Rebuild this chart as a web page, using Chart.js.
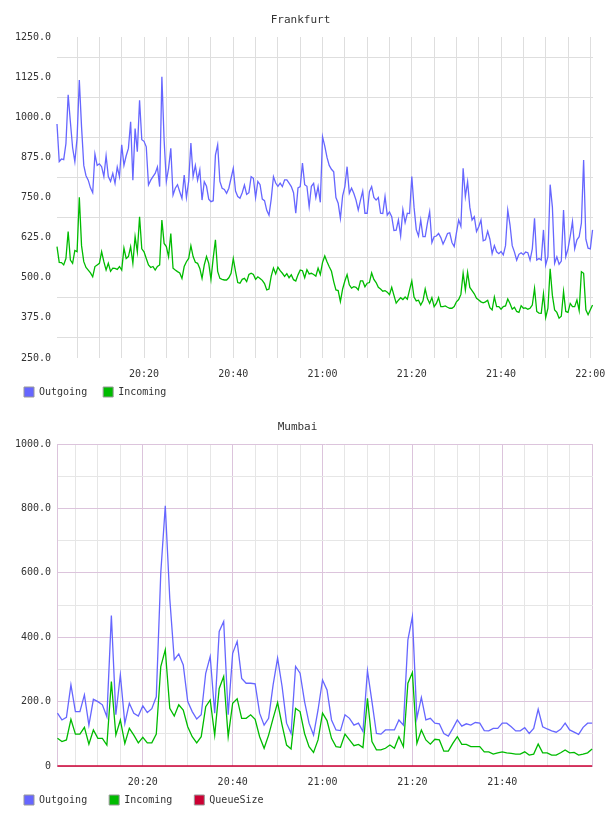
<!DOCTYPE html>
<html>
<head>
<meta charset="utf-8">
<title>Frankfurt / Mumbai traffic</title>
<script src="https://cdn.jsdelivr.net/npm/chart.js@4.4.0/dist/chart.umd.min.js"></script>
<style>
  html, body { margin: 0; padding: 0; background: #fff; }
  .box { position: absolute; left: 0; width: 608px; height: 408px; }
</style>
</head>
<body>
<div class="box" style="top:0"><canvas id="frankfurtChart" width="608" height="408"></canvas></div>
<div class="box" style="top:408px"><canvas id="mumbaiChart" width="608" height="408"></canvas></div>
<script>
// --- Data: x is minutes after 20:00 ---
const frankfurtStart = 0.5;
const frankfurtStep = 0.5;
const frankfurtOutgoing = [
  979, 862, 870, 868, 918, 1070, 985, 905, 862, 935,
  1116, 970, 850, 818, 804, 780, 765, 885, 850, 855,
  846, 815, 880, 815, 800, 825, 794, 845, 815, 914,
  850, 880, 903, 986, 804, 965, 893, 1053, 930, 925,
  908, 789, 804, 815, 825, 845, 784, 1126, 929, 800,
  841, 903, 758, 779, 790, 768, 747, 820, 750, 800,
  920, 815, 850, 804, 836, 742, 799, 785, 745, 737,
  740, 882, 914, 800, 779, 775, 763, 779, 810, 841,
  770,
  753, 748, 765, 789, 760, 765, 815, 810, 750, 800,
  790, 745, 740, 710, 695, 745, 815, 795, 785, 795,
  784, 805, 805, 795, 784, 765, 701, 780, 784, 857,
  790, 785, 721, 785, 794, 750, 784, 735, 939, 910,
  875, 850, 838, 830, 750, 732, 685, 755, 784, 846,
  763, 779, 763, 742, 711, 742, 770, 701, 701, 768,
  784, 750, 742, 750, 701, 700, 753, 695, 705, 690,
  647, 648, 680, 630, 712, 672, 701, 700, 815, 720,
  650, 630, 680, 628, 628, 670, 706, 610, 628, 630,
  638, 625, 605, 620, 638, 640, 610, 597, 640, 680,
  660, 841, 753, 799, 720, 680, 690, 644, 659, 680,
  615, 618, 645, 620, 575, 600, 581, 575, 582, 571,
  600, 711, 665, 600, 580, 555, 573, 578, 572, 580,
  578, 555, 590, 685, 555, 560, 555, 649, 540, 566,
  790, 720, 545, 565, 542, 552, 711, 566, 590, 630,
  675, 590, 618, 628, 670, 867, 620, 592, 590, 649
];
const frankfurtIncoming = [
  597, 548, 547, 540, 560, 644, 555, 545, 585, 581,
  751, 600, 550, 532, 524, 515, 503, 535, 540, 545,
  581, 550, 524, 545, 520, 530, 529, 526, 535, 524,
  592, 560, 566, 597, 545, 628, 581, 690, 590, 581,
  560, 540, 532, 535, 524, 535, 540, 680, 607, 597,
  566, 638, 530, 524, 519, 515, 498, 535, 550, 560,
  600, 566, 548, 545, 529, 498, 540, 566, 545, 495,
  561, 618, 520, 498, 495, 493, 493, 500, 514, 560,
  520,
  485, 483, 495, 498, 488, 510, 514, 510, 495, 503,
  498, 492, 482, 462, 465, 505, 530, 512, 533, 522,
  514, 504, 513, 500, 509, 494, 490, 509, 524, 522,
  500, 525, 512, 514, 510, 505, 530, 510, 548, 568,
  550, 534, 520, 488, 462, 460, 426, 465, 490, 510,
  478, 468, 472, 470, 462, 490, 490, 472, 483, 485,
  515, 495, 485, 470, 465, 458, 460, 455, 447, 470,
  445, 421, 430, 438, 432, 440, 433, 462, 490, 440,
  428, 430, 415, 428, 465, 435, 420, 438, 410, 420,
  438, 410, 410, 412, 408, 405, 405, 410, 425, 432,
  448, 514, 462, 517, 470, 460, 450, 436, 431, 425,
  422, 425, 430, 407, 400, 440, 410, 410, 402, 410,
  412, 434, 420, 402, 408, 395, 392, 413, 405, 406,
  402, 405, 415, 467, 395, 390, 389, 450, 376, 405,
  528, 445, 400, 392, 374, 380, 457, 395, 392, 420,
  410, 410, 431, 398, 519, 514, 400, 385, 400, 415
];

const mumbaiStart = 1;
const mumbaiStep = 1;
const mumbaiOutgoing = [
  164, 143, 151, 252, 169, 169, 221, 127, 207, 200,
  190, 153, 467, 159, 283, 132, 195, 164, 155, 187,
  166, 178, 215, 600, 808, 520, 330, 348, 314, 200,
  169, 146, 159, 288, 340, 164, 418, 449, 159, 350,
  387, 272, 257, 257, 255, 164, 127, 148, 252, 335,
  247, 133, 101, 309, 288, 200, 133, 96, 174, 267,
  236, 143, 112, 110, 159, 148, 127, 133, 107, 296,
  200, 101, 99, 112, 112, 112, 143, 127, 392, 464,
  148, 213, 143, 148, 133, 131, 101, 93, 117, 143,
  124, 131, 127, 135, 133, 110, 109, 117, 117, 133,
  133, 122, 109, 109, 119, 101, 117, 176, 122, 115,
  109, 105, 114, 133, 112, 105, 98, 120, 133, 133
];
const mumbaiIncoming = [
  86, 76, 81, 145, 99, 99, 120, 68, 112, 86,
  86, 65, 262, 96, 143, 70, 117, 96, 72, 89,
  72, 72, 99, 309, 361, 179, 155, 190, 174, 122,
  91, 72, 91, 184, 205, 96, 241, 278, 91, 195,
  209, 148, 148, 159, 145, 91, 55, 96, 148, 197,
  127, 65, 53, 179, 169, 101, 60, 42, 81, 164,
  141, 86, 60, 58, 99, 81, 63, 67, 57, 210,
  76, 50, 50, 55, 65, 55, 91, 60, 257, 290,
  70, 112, 81, 68, 83, 81, 46, 46, 70, 91,
  67, 67, 60, 60, 60, 44, 44, 37, 41, 44,
  41, 39, 37, 37, 44, 34, 37, 68, 41, 41,
  34, 34, 41, 50, 41, 42, 34, 37, 41, 53
];
const mumbaiQueueSize = [
  0, 0, 0, 0, 0, 0, 0, 0, 0, 0, 0, 0, 0, 0, 0, 0, 0, 0, 0, 0,
  0, 0, 0, 0, 0, 0, 0, 0, 0, 0, 0, 0, 0, 0, 0, 0, 0, 0, 0, 0,
  0, 0, 0, 0, 0, 0, 0, 0, 0, 0, 0, 0, 0, 0, 0, 0, 0, 0, 0, 0,
  0, 0, 0, 0, 0, 0, 0, 0, 0, 0, 0, 0, 0, 0, 0, 0, 0, 0, 0, 0,
  0, 0, 0, 0, 0, 0, 0, 0, 0, 0, 0, 0, 0, 0, 0, 0, 0, 0, 0, 0,
  0, 0, 0, 0, 0, 0, 0, 0, 0, 0, 0, 0, 0, 0, 0, 0, 0, 0, 0, 0
];

// --- Axis ticks ---
const xGridMinutes = [5, 10, 15, 20, 25, 30, 35, 40, 45, 50, 55, 60, 65, 70, 75, 80, 85, 90, 95, 100, 105, 110, 115, 120];
const frankfurtXLabels = [20, 40, 60, 80, 100, 120];
const mumbaiXLabels = [20, 40, 60, 80, 100];
const frankfurtYLabels = [250, 375, 500, 625, 750, 875, 1000, 1125, 1250];
const frankfurtYGrid = [312.5, 437.5, 562.5, 687.5, 812.5, 937.5, 1062.5, 1187.5];
const mumbaiYLabels = [0, 200, 400, 600, 800, 1000];
const mumbaiYGrid = [100, 300, 500, 700, 900];

// --- Helpers ---
const MONO = 'DejaVu Sans Mono';
const TEXT = '#333';
const BLUE = '#6666ff';
const GREEN = '#00bb00';
const RED = '#cc0033';
const GRAY = '#dedede';
const PINK = '#dcc4dc';

const toPoints = (values, start, step) => values.map((v, i) => ({ x: start + i * step, y: v }));

const timeLabel = (m) => {
    const h = 20 + Math.floor(m / 60);
    return h + ':' + String(m % 60).padStart(2, '0');
};

const legendLabels = (chart) => Chart.defaults.plugins.legend.labels.generateLabels(chart).map(item => {
    item.strokeStyle = '#999';
    item.lineWidth = 1;
    return item;
});

const series = (label, color, points) => ({
    label: label, data: points, borderColor: color, backgroundColor: color,
    borderWidth: 1.3, pointRadius: 0, tension: 0, clip: 2
});

function buildChart(canvasId, o) {
    const font = { family: MONO, size: 10 };
    return new Chart(document.getElementById(canvasId), {
        type: 'line',
        data: { datasets: o.datasets },
        options: {
            responsive: false,
            animation: false,
            layout: { padding: { left: o.padLeft, right: 15, top: 0, bottom: 1 } },
            scales: {
                x: {
                    type: 'linear', min: o.xMin, max: o.xMax,
                    afterBuildTicks: (scale) => { scale.ticks = o.xTicks.map(v => ({ value: v })); },
                    afterFit: (scale) => { scale.height = o.xHeight; scale.paddingLeft = 0; scale.paddingRight = 0; },
                    grid: { color: (c) => o.xGridColor(c.tick.value), drawTicks: false },
                    border: { display: false },
                    // mirror keeps the labels from being clipped to the (short) axis box
                    ticks: {
                        mirror: true, padding: -22,
                        callback: (v) => o.xLabels.includes(v) ? timeLabel(v) : '',
                        maxRotation: 0, autoSkip: false, font: font, color: TEXT
                    }
                },
                y: {
                    type: 'linear', min: o.yMin, max: o.yMax,
                    afterBuildTicks: (scale) => {
                        scale.ticks = o.yLabels.concat(o.yGrid).sort((a, b) => a - b).map(v => ({ value: v }));
                    },
                    afterFit: (scale) => { scale.width = o.yWidth; },
                    grid: { color: (c) => o.yGridColor(c.tick.value), drawTicks: false },
                    border: o.yBorder,
                    ticks: {
                        callback: (v) => o.yLabels.includes(v) ? (v === 0 ? '0' : v.toFixed(1)) : '',
                        padding: 6, autoSkip: false, font: font, color: TEXT
                    }
                }
            },
            plugins: {
                title: {
                    display: true, text: o.title, color: TEXT,
                    font: { family: MONO, size: 11, weight: 'normal' },
                    padding: { top: o.titleTop, bottom: o.titleBottom }
                },
                legend: {
                    position: 'bottom', align: 'start',
                    labels: { boxWidth: 10, boxHeight: 10, padding: o.legendPad, font: font, color: TEXT, generateLabels: legendLabels }
                },
                tooltip: { enabled: false }
            }
        }
    });
}

// --- Frankfurt ---
buildChart('frankfurtChart', {
    title: 'Frankfurt',
    datasets: [
        series('Outgoing', BLUE, toPoints(frankfurtOutgoing, frankfurtStart, frankfurtStep)),
        series('Incoming', GREEN, toPoints(frankfurtIncoming, frankfurtStart, frankfurtStep))
    ],
    xMin: 0.5, xMax: 120.6, xTicks: xGridMinutes, xLabels: frankfurtXLabels,
    xGridColor: () => GRAY,
    yMin: 250, yMax: 1250, yLabels: frankfurtYLabels, yGrid: frankfurtYGrid,
    yGridColor: (v) => frankfurtYGrid.includes(v) ? GRAY : 'rgba(0,0,0,0)',
    yBorder: { display: false },
    padLeft: 8, yWidth: 49, xHeight: 13, legendPad: 16, titleTop: 13.4, titleBottom: 10.4
});

// --- Mumbai ---
buildChart('mumbaiChart', {
    title: 'Mumbai',
    datasets: [
        series('Outgoing', BLUE, toPoints(mumbaiOutgoing, mumbaiStart, mumbaiStep)),
        series('Incoming', GREEN, toPoints(mumbaiIncoming, mumbaiStart, mumbaiStep)),
        series('QueueSize', RED, toPoints(mumbaiQueueSize, mumbaiStart, mumbaiStep))
    ],
    xMin: 0.9, xMax: 120.2, xTicks: xGridMinutes, xLabels: mumbaiXLabels,
    xGridColor: (v) => v % 20 === 0 ? PINK : '#e6e6e6',
    yMin: 0, yMax: 1000, yLabels: mumbaiYLabels, yGrid: mumbaiYGrid,
    yGridColor: (v) => v % 200 === 0 ? PINK : '#e6e6e6',
    yBorder: { display: true, color: PINK, width: 1 },
    padLeft: 2, yWidth: 55, xHeight: 7, legendPad: 22, titleTop: 12.9, titleBottom: 9.9
});
</script>
</body>
</html>
